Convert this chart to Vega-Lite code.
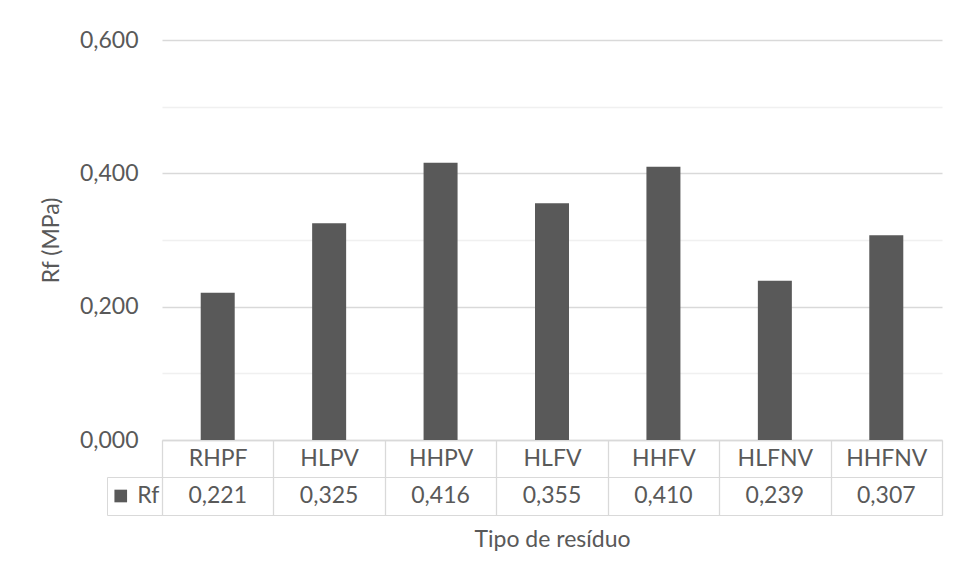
{
  "$schema": "https://vega.github.io/schema/vega-lite/v6.json",
  "datasets": {
    "rf": [
      {"tipo": "RHPF", "rf": 0.221},
      {"tipo": "HLPV", "rf": 0.325},
      {"tipo": "HHPV", "rf": 0.416},
      {"tipo": "HLFV", "rf": 0.355},
      {"tipo": "HHFV", "rf": 0.410},
      {"tipo": "HLFNV", "rf": 0.239},
      {"tipo": "HHFNV", "rf": 0.307}
    ],
    "legenda": [{"serie": "Rf"}]
  },
  "padding": {"left": 40, "top": 29, "right": 16, "bottom": 5},
  "columns": 2,
  "spacing": {"row": 37, "column": 0},
  "bounds": "flush",
  "concat": [
    {
      "width": 55,
      "height": 400,
      "view": {"stroke": null},
      "data": {"values": []},
      "mark": "text",
      "encoding": {}
    },
    {
      "width": 780,
      "height": 400,
      "view": {"stroke": null},
      "data": {"name": "rf"},
      "mark": {"type": "bar", "color": "#595959", "size": 34},
      "encoding": {
        "x": {
          "field": "tipo",
          "type": "nominal",
          "sort": null,
          "scale": {"paddingInner": 0, "paddingOuter": 0},
          "axis": {
            "title": null,
            "labelAngle": 0,
            "labelBaseline": "middle",
            "labelPadding": -19,
            "tickBand": "extent",
            "tickSize": 37,
            "tickColor": "#d9d9d9",
            "domainColor": "#d9d9d9",
            "grid": false
          }
        },
        "y": {
          "field": "rf",
          "type": "quantitative",
          "scale": {"domain": [0, 0.6], "nice": false},
          "axis": {
            "title": "Rf (MPa)",
            "values": [0, 0.1, 0.2, 0.3, 0.4, 0.5, 0.6],
            "format": ".3f",
            "labelExpr": "round(datum.value * 10) % 2 == 0 ? datum.label : ''",
            "ticks": false,
            "domain": false,
            "labelPadding": 24,
            "titlePadding": 16,
            "gridColor": {
              "condition": {"test": "round(datum.value * 10) % 2 == 0", "value": "#d9d9d9"},
              "value": "#f0f0f0"
            }
          }
        }
      }
    },
    {
      "width": 55,
      "height": 38,
      "view": {"stroke": "#d9d9d9"},
      "data": {"name": "legenda"},
      "layer": [
        {
          "mark": {"type": "point", "shape": "square", "filled": true, "opacity": 1, "color": "#595959", "size": 160},
          "encoding": {
            "x": {"datum": "simbolo", "type": "nominal", "scale": {"domain": ["simbolo", "rotulo"], "paddingInner": 0, "paddingOuter": 0.1}, "axis": null}
          }
        },
        {
          "mark": {"type": "text", "color": "#595959"},
          "encoding": {
            "x": {"datum": "rotulo", "type": "nominal"},
            "text": {"field": "serie"}
          }
        }
      ]
    },
    {
      "width": 780,
      "height": 38,
      "view": {"stroke": "#d9d9d9"},
      "data": {"name": "rf"},
      "mark": {"type": "text", "color": "#595959", "baseline": "middle"},
      "encoding": {
        "x": {
          "field": "tipo",
          "type": "nominal",
          "sort": null,
          "scale": {"paddingInner": 0, "paddingOuter": 0},
          "axis": {
            "title": "Tipo de resíduo",
            "labels": false,
            "ticks": false,
            "domain": false,
            "grid": true,
            "tickBand": "extent",
            "gridColor": "#d9d9d9",
            "titlePadding": 13
          }
        },
        "text": {"field": "rf", "type": "quantitative", "format": ".3f"}
      }
    }
  ],
  "config": {
    "locale": {
      "number": {"decimal": ",", "thousands": ".", "grouping": [3], "currency": ["", " €"]}
    },
    "font": "Lato",
    "view": {"stroke": null},
    "text": {"font": "Lato", "fontSize": 23},
    "axis": {
      "labelFont": "Lato",
      "titleFont": "Lato",
      "labelFontSize": 23,
      "titleFontSize": 23,
      "labelColor": "#595959",
      "titleColor": "#595959",
      "titleFontWeight": "normal",
      "gridWidth": 1.3,
      "domainWidth": 1.3,
      "tickWidth": 1.3
    }
  }
}
